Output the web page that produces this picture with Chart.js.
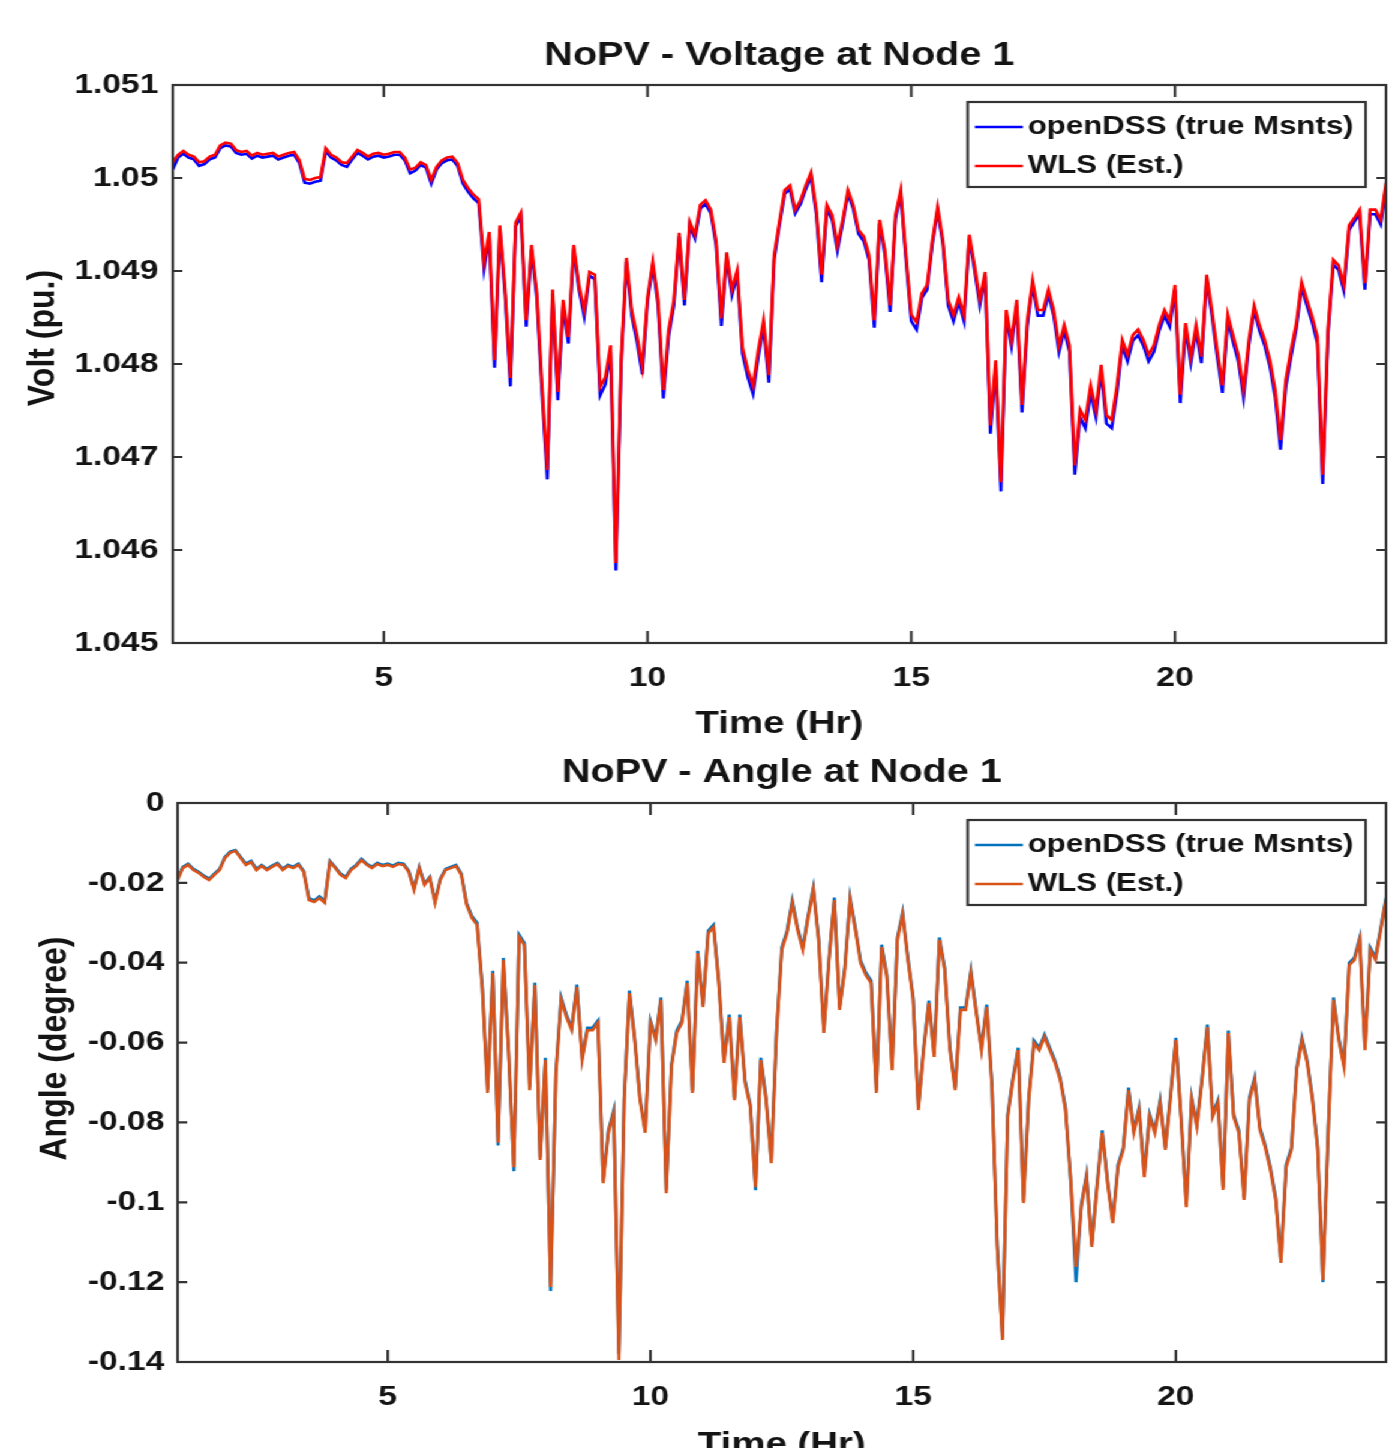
<!DOCTYPE html>
<html>
<head>
<meta charset="utf-8">
<script src="https://cdn.jsdelivr.net/npm/chart.js@4.4.1/dist/chart.umd.min.js"></script>
<style>
  html, body { margin: 0; padding: 0; background: #fff; overflow: hidden; }
  /* the source figure is stretched sideways, so the whole sheet is too */
  #sheet { width: 1157px; transform: scaleX(1.2); transform-origin: 0 0; }
  .panel { position: relative; width: 1157px; }
</style>
</head>
<body>
<div id="sheet">
  <div class="panel" style="height:748px"><canvas id="voltChart"></canvas></div>
  <div class="panel" style="height:720px"><canvas id="angleChart"></canvas></div>
</div>
<script>
const hours = [
  1, 1.1, 1.2, 1.3, 1.4, 1.5, 1.6, 1.7, 1.8, 1.9,
  2, 2.1, 2.2, 2.3, 2.4, 2.5, 2.6, 2.7, 2.8, 2.9,
  3, 3.1, 3.2, 3.3, 3.4, 3.5, 3.6, 3.7, 3.8, 3.9,
  4, 4.1, 4.2, 4.3, 4.4, 4.5, 4.6, 4.7, 4.8, 4.9,
  5, 5.1, 5.2, 5.3, 5.4, 5.5, 5.6, 5.7, 5.8, 5.9,
  6, 6.1, 6.2, 6.3, 6.4, 6.5, 6.6, 6.7, 6.8, 6.9,
  7, 7.1, 7.2, 7.3, 7.4, 7.5, 7.6, 7.7, 7.8, 7.9,
  8, 8.1, 8.2, 8.3, 8.4, 8.5, 8.6, 8.7, 8.8, 8.9,
  9, 9.1, 9.2, 9.3, 9.4, 9.5, 9.6, 9.7, 9.8, 9.9,
  10, 10.1, 10.2, 10.3, 10.4, 10.5, 10.6, 10.7, 10.8, 10.9,
  11, 11.1, 11.2, 11.3, 11.4, 11.5, 11.6, 11.7, 11.8, 11.9,
  12, 12.1, 12.2, 12.3, 12.4, 12.5, 12.6, 12.7, 12.8, 12.9,
  13, 13.1, 13.2, 13.3, 13.4, 13.5, 13.6, 13.7, 13.8, 13.9,
  14, 14.1, 14.2, 14.3, 14.4, 14.5, 14.6, 14.7, 14.8, 14.9,
  15, 15.1, 15.2, 15.3, 15.4, 15.5, 15.6, 15.7, 15.8, 15.9,
  16, 16.1, 16.2, 16.3, 16.4, 16.5, 16.6, 16.7, 16.8, 16.9,
  17, 17.1, 17.2, 17.3, 17.4, 17.5, 17.6, 17.7, 17.8, 17.9,
  18, 18.1, 18.2, 18.3, 18.4, 18.5, 18.6, 18.7, 18.8, 18.9,
  19, 19.1, 19.2, 19.3, 19.4, 19.5, 19.6, 19.7, 19.8, 19.9,
  20, 20.1, 20.2, 20.3, 20.4, 20.5, 20.6, 20.7, 20.8, 20.9,
  21, 21.1, 21.2, 21.3, 21.4, 21.5, 21.6, 21.7, 21.8, 21.9,
  22, 22.1, 22.2, 22.3, 22.4, 22.5, 22.6, 22.7, 22.8, 22.9,
  23, 23.1, 23.2, 23.3, 23.4, 23.5, 23.6, 23.7, 23.8, 23.9,
  24
]

// Voltage (pu), openDSS true measurements
const voltTrue = [
  1.05009, 1.05022, 1.05026, 1.05022, 1.05020, 1.05013, 1.05015, 1.05020, 1.05022, 1.05032,
  1.05035, 1.05034, 1.05027, 1.05025, 1.05026, 1.05021, 1.05024, 1.05022, 1.05023, 1.05024,
  1.05020, 1.05022, 1.05024, 1.05025, 1.05016, 1.04995, 1.04994, 1.04996, 1.04997, 1.05029,
  1.05022, 1.05019, 1.05014, 1.05012, 1.05020, 1.05027, 1.05024, 1.05020, 1.05023, 1.05024,
  1.05022, 1.05023, 1.05025, 1.05025, 1.05019, 1.05005, 1.05008, 1.05014, 1.05011, 1.04994,
  1.05009, 1.05016, 1.05019, 1.05020, 1.05013, 1.04994, 1.04985, 1.04978, 1.04973, 1.04902,
  1.04937, 1.04796, 1.04945, 1.04874, 1.04776, 1.04948, 1.04959, 1.04840, 1.04923, 1.04871,
  1.04768, 1.04676, 1.04875, 1.04761, 1.04863, 1.04822, 1.04924, 1.04880, 1.04851, 1.04895,
  1.04891, 1.04766, 1.04778, 1.04813, 1.04578, 1.04799, 1.04910, 1.04852, 1.04824, 1.04789,
  1.04867, 1.04906, 1.04863, 1.04763, 1.04830, 1.04863, 1.04937, 1.04863, 1.04949, 1.04935,
  1.04967, 1.04972, 1.04962, 1.04928, 1.04841, 1.04915, 1.04874, 1.04896, 1.04811, 1.04786,
  1.04768, 1.04808, 1.04840, 1.04780, 1.04912, 1.04949, 1.04983, 1.04988, 1.04962, 1.04972,
  1.04988, 1.05002, 1.04961, 1.04888, 1.04967, 1.04955, 1.04922, 1.04951, 1.04983, 1.04967,
  1.04940, 1.04932, 1.04912, 1.04839, 1.04951, 1.04918, 1.04856, 1.04956, 1.04983, 1.04912,
  1.04846, 1.04837, 1.04871, 1.04880, 1.04929, 1.04965, 1.04929, 1.04863, 1.04846, 1.04867,
  1.04846, 1.04935, 1.04901, 1.04863, 1.04895, 1.04725, 1.04797, 1.04663, 1.04852, 1.04819,
  1.04863, 1.04748, 1.04841, 1.04885, 1.04852, 1.04852, 1.04875, 1.04852, 1.04813, 1.04836,
  1.04813, 1.04681, 1.04743, 1.04731, 1.04769, 1.04743, 1.04792, 1.04736, 1.04731, 1.04769,
  1.04820, 1.04803, 1.04825, 1.04831, 1.04820, 1.04803, 1.04813, 1.04836, 1.04852, 1.04840,
  1.04880, 1.04758, 1.04838, 1.04801, 1.04836, 1.04801, 1.04891, 1.04852, 1.04808, 1.04769,
  1.04847, 1.04824, 1.04803, 1.04764, 1.04820, 1.04858, 1.04836, 1.04820, 1.04797, 1.04764,
  1.04708, 1.04775, 1.04808, 1.04838, 1.04883, 1.04863, 1.04845, 1.04822, 1.04671, 1.04831,
  1.04907, 1.04901, 1.04879, 1.04944, 1.04953, 1.04961, 1.04880, 1.04961, 1.04961, 1.04950,
  1.04990
]

// Voltage (pu), WLS estimate
const voltEst = [
  1.05017, 1.05025, 1.05029, 1.05025, 1.05023, 1.05017, 1.05018, 1.05023, 1.05025, 1.05035,
  1.05038, 1.05037, 1.05030, 1.05028, 1.05029, 1.05024, 1.05027, 1.05025, 1.05026, 1.05027,
  1.05023, 1.05025, 1.05027, 1.05028, 1.05019, 1.04999, 1.04998, 1.05000, 1.05001, 1.05032,
  1.05025, 1.05022, 1.05017, 1.05016, 1.05023, 1.05030, 1.05027, 1.05023, 1.05026, 1.05027,
  1.05025, 1.05026, 1.05028, 1.05028, 1.05022, 1.05009, 1.05011, 1.05017, 1.05014, 1.04998,
  1.05012, 1.05019, 1.05022, 1.05023, 1.05016, 1.04998, 1.04989, 1.04982, 1.04977, 1.04910,
  1.04942, 1.04804, 1.04949, 1.04880, 1.04785, 1.04952, 1.04963, 1.04847, 1.04928, 1.04877,
  1.04777, 1.04686, 1.04880, 1.04770, 1.04869, 1.04829, 1.04928, 1.04885, 1.04858, 1.04899,
  1.04896, 1.04775, 1.04786, 1.04820, 1.04586, 1.04806, 1.04914, 1.04858, 1.04831, 1.04797,
  1.04872, 1.04910, 1.04869, 1.04772, 1.04837, 1.04869, 1.04941, 1.04869, 1.04953, 1.04939,
  1.04971, 1.04976, 1.04966, 1.04933, 1.04849, 1.04920, 1.04880, 1.04901, 1.04818, 1.04794,
  1.04777, 1.04815, 1.04847, 1.04788, 1.04917, 1.04953, 1.04987, 1.04992, 1.04966, 1.04976,
  1.04992, 1.05006, 1.04966, 1.04896, 1.04971, 1.04960, 1.04928, 1.04955, 1.04987, 1.04971,
  1.04944, 1.04937, 1.04917, 1.04847, 1.04955, 1.04923, 1.04863, 1.04960, 1.04987, 1.04917,
  1.04853, 1.04845, 1.04876, 1.04885, 1.04933, 1.04969, 1.04933, 1.04869, 1.04853, 1.04872,
  1.04853, 1.04939, 1.04906, 1.04869, 1.04899, 1.04734, 1.04804, 1.04673, 1.04858, 1.04826,
  1.04869, 1.04756, 1.04847, 1.04890, 1.04858, 1.04858, 1.04880, 1.04858, 1.04820, 1.04842,
  1.04820, 1.04691, 1.04751, 1.04740, 1.04777, 1.04751, 1.04799, 1.04745, 1.04740, 1.04777,
  1.04826, 1.04810, 1.04831, 1.04837, 1.04826, 1.04810, 1.04820, 1.04842, 1.04858, 1.04847,
  1.04885, 1.04767, 1.04844, 1.04808, 1.04842, 1.04808, 1.04896, 1.04858, 1.04815, 1.04777,
  1.04853, 1.04831, 1.04810, 1.04772, 1.04826, 1.04863, 1.04842, 1.04826, 1.04804, 1.04772,
  1.04718, 1.04783, 1.04815, 1.04844, 1.04888, 1.04869, 1.04851, 1.04829, 1.04681, 1.04837,
  1.04912, 1.04906, 1.04885, 1.04949, 1.04957, 1.04966, 1.04887, 1.04966, 1.04966, 1.04955,
  1.04995
]

// Angle (degree), openDSS true measurements
const angleTrue = [
  -0.0188, -0.0160, -0.0152, -0.0165, -0.0172, -0.0182, -0.0190, -0.0177, -0.0165, -0.0135,
  -0.0122, -0.0118, -0.0135, -0.0152, -0.0145, -0.0165, -0.0155, -0.0165, -0.0157, -0.0150,
  -0.0165, -0.0155, -0.0160, -0.0152, -0.0170, -0.0238, -0.0244, -0.0234, -0.0246, -0.0145,
  -0.0160, -0.0177, -0.0185, -0.0165, -0.0155, -0.0140, -0.0152, -0.0160, -0.0150, -0.0155,
  -0.0152, -0.0157, -0.0150, -0.0152, -0.0170, -0.0214, -0.0160, -0.0202, -0.0185, -0.0246,
  -0.0190, -0.0165, -0.0160, -0.0155, -0.0177, -0.0250, -0.0283, -0.0300, -0.0460, -0.0718,
  -0.0420, -0.0858, -0.0388, -0.0620, -0.0922, -0.0330, -0.0350, -0.0712, -0.0450, -0.0888,
  -0.0638, -0.1222, -0.0675, -0.0487, -0.0530, -0.0563, -0.0455, -0.0638, -0.0563, -0.0563,
  -0.0545, -0.0946, -0.0820, -0.0770, -0.1380, -0.0738, -0.0470, -0.0588, -0.0738, -0.0820,
  -0.0545, -0.0588, -0.0487, -0.0970, -0.0655, -0.0570, -0.0545, -0.0445, -0.0720, -0.0370,
  -0.0505, -0.0320, -0.0305, -0.0445, -0.0645, -0.0530, -0.0738, -0.0530, -0.0695, -0.0755,
  -0.0970, -0.0638, -0.0738, -0.0896, -0.0570, -0.0362, -0.0320, -0.0244, -0.0312, -0.0362,
  -0.0282, -0.0212, -0.0337, -0.0570, -0.0387, -0.0237, -0.0512, -0.0412, -0.0237, -0.0312,
  -0.0395, -0.0425, -0.0445, -0.0720, -0.0355, -0.0430, -0.0663, -0.0337, -0.0274, -0.0387,
  -0.0487, -0.0763, -0.0613, -0.0495, -0.0630, -0.0337, -0.0412, -0.0613, -0.0713, -0.0512,
  -0.0512, -0.0420, -0.0520, -0.0613, -0.0505, -0.0705, -0.1106, -0.1339, -0.0780, -0.0688,
  -0.0613, -0.0996, -0.0738, -0.0595, -0.0613, -0.0580, -0.0613, -0.0645, -0.0688, -0.0763,
  -0.0950, -0.1200, -0.1006, -0.0931, -0.1106, -0.0956, -0.0820, -0.0946, -0.1046, -0.0906,
  -0.0863, -0.0713, -0.0820, -0.0763, -0.0931, -0.0780, -0.0820, -0.0745, -0.0863, -0.0730,
  -0.0588, -0.0788, -0.1006, -0.0738, -0.0805, -0.0688, -0.0555, -0.0780, -0.0745, -0.0963,
  -0.0570, -0.0780, -0.0820, -0.0988, -0.0738, -0.0688, -0.0813, -0.0856, -0.0913, -0.0988,
  -0.1146, -0.0906, -0.0863, -0.0663, -0.0588, -0.0645, -0.0738, -0.0863, -0.1200, -0.0820,
  -0.0487, -0.0588, -0.0655, -0.0400, -0.0387, -0.0337, -0.0613, -0.0362, -0.0387, -0.0312,
  -0.0237
]

// Angle (degree), WLS estimate
const angleEst = [
  -0.0193, -0.0163, -0.0155, -0.0168, -0.0175, -0.0185, -0.0193, -0.0180, -0.0168, -0.0138,
  -0.0125, -0.0120, -0.0138, -0.0155, -0.0148, -0.0168, -0.0158, -0.0168, -0.0160, -0.0153,
  -0.0168, -0.0158, -0.0163, -0.0155, -0.0173, -0.0243, -0.0248, -0.0238, -0.0250, -0.0148,
  -0.0163, -0.0180, -0.0188, -0.0168, -0.0158, -0.0143, -0.0155, -0.0163, -0.0153, -0.0158,
  -0.0155, -0.0160, -0.0153, -0.0155, -0.0173, -0.0218, -0.0163, -0.0205, -0.0188, -0.0250,
  -0.0193, -0.0168, -0.0163, -0.0158, -0.0180, -0.0255, -0.0288, -0.0306, -0.0468, -0.0726,
  -0.0426, -0.0851, -0.0393, -0.0626, -0.0912, -0.0336, -0.0356, -0.0719, -0.0456, -0.0894,
  -0.0644, -0.1212, -0.0681, -0.0493, -0.0536, -0.0569, -0.0461, -0.0644, -0.0569, -0.0569,
  -0.0551, -0.0952, -0.0826, -0.0776, -0.1395, -0.0744, -0.0476, -0.0594, -0.0744, -0.0826,
  -0.0551, -0.0594, -0.0493, -0.0977, -0.0661, -0.0576, -0.0551, -0.0451, -0.0726, -0.0376,
  -0.0511, -0.0326, -0.0311, -0.0451, -0.0651, -0.0536, -0.0744, -0.0536, -0.0701, -0.0761,
  -0.0962, -0.0644, -0.0744, -0.0902, -0.0576, -0.0368, -0.0326, -0.0250, -0.0318, -0.0368,
  -0.0288, -0.0218, -0.0343, -0.0576, -0.0393, -0.0243, -0.0518, -0.0418, -0.0243, -0.0318,
  -0.0401, -0.0431, -0.0451, -0.0726, -0.0361, -0.0436, -0.0669, -0.0343, -0.0280, -0.0393,
  -0.0493, -0.0769, -0.0619, -0.0501, -0.0636, -0.0343, -0.0418, -0.0619, -0.0719, -0.0518,
  -0.0518, -0.0426, -0.0526, -0.0619, -0.0511, -0.0711, -0.1112, -0.1345, -0.0786, -0.0694,
  -0.0619, -0.1002, -0.0744, -0.0601, -0.0619, -0.0586, -0.0619, -0.0651, -0.0694, -0.0769,
  -0.0944, -0.1162, -0.1012, -0.0937, -0.1112, -0.0962, -0.0826, -0.0952, -0.1052, -0.0912,
  -0.0869, -0.0719, -0.0826, -0.0769, -0.0937, -0.0786, -0.0826, -0.0751, -0.0869, -0.0736,
  -0.0594, -0.0794, -0.1012, -0.0744, -0.0811, -0.0694, -0.0561, -0.0786, -0.0751, -0.0969,
  -0.0576, -0.0786, -0.0826, -0.0994, -0.0744, -0.0694, -0.0819, -0.0862, -0.0919, -0.0994,
  -0.1152, -0.0912, -0.0869, -0.0669, -0.0594, -0.0651, -0.0744, -0.0869, -0.1195, -0.0826,
  -0.0493, -0.0594, -0.0661, -0.0406, -0.0393, -0.0343, -0.0619, -0.0368, -0.0393, -0.0318,
  -0.0243
]

const hourTicks = [5, 10, 15, 20]
const voltTicks = [1.045, 1.046, 1.047, 1.048, 1.049, 1.05, 1.051]
const angleTicks = [-0.14, -0.12, -0.1, -0.08, -0.06, -0.04, -0.02, 0]

const family = '"Liberation Sans", Arial, sans-serif'
const ink = '#141414'
const frameInk = '#333333'

const points = vals => vals.map((v, i) => ({ x: hours[i], y: v }))

// MATLAB style axes box with inward ticks on all four sides, y label, boxed legend
const matlabFrame = {
  id: 'matlabFrame',
  afterDatasetsDraw (chart, args, opts) {
    const { ctx, chartArea: a } = chart
    const x = chart.scales.x
    const y = chart.scales.y
    ctx.save()
    ctx.strokeStyle = frameInk
    ctx.lineWidth = 2.2
    ctx.strokeRect(a.left, a.top, a.width, a.height)
    ctx.beginPath()
    x.ticks.forEach(t => {
      const px = x.getPixelForValue(t.value)
      ctx.moveTo(px, a.bottom); ctx.lineTo(px, a.bottom - 12)
      ctx.moveTo(px, a.top); ctx.lineTo(px, a.top + 12)
    })
    y.ticks.forEach(t => {
      const py = y.getPixelForValue(t.value)
      ctx.moveTo(a.left, py); ctx.lineTo(a.left + 8, py)
      ctx.moveTo(a.right, py); ctx.lineTo(a.right - 8, py)
    })
    ctx.stroke()

    // y axis label, MATLAB sits it a little above the middle of the axis
    ctx.save()
    ctx.translate(opts.yTitleX, (a.top + a.bottom) / 2 + opts.yTitleShift)
    ctx.rotate(-Math.PI / 2)
    ctx.font = 'bold 32px ' + family
    ctx.fillStyle = ink
    ctx.textAlign = 'center'
    ctx.textBaseline = 'middle'
    ctx.fillText(opts.yTitle, 0, 0)
    ctx.restore()

    // legend
    const sets = chart.data.datasets
    ctx.font = 'bold 26px ' + family
    const textW = Math.max(...sets.map(d => ctx.measureText(d.label).width))
    const w = 50 + textW + 10
    const h = 85
    const bx = a.right - 17 - w
    const by = a.top + 17
    ctx.fillStyle = '#fff'
    ctx.fillRect(bx, by, w, h)
    ctx.strokeStyle = frameInk
    ctx.lineWidth = 2.2
    ctx.strokeRect(bx, by, w, h)
    sets.forEach((d, i) => {
      const cy = by + 25 + i * 39
      ctx.strokeStyle = d.borderColor
      ctx.lineWidth = 2.5
      ctx.beginPath()
      ctx.moveTo(bx + 6, cy); ctx.lineTo(bx + 46, cy)
      ctx.stroke()
      ctx.fillStyle = ink
      ctx.textBaseline = 'middle'
      ctx.textAlign = 'left'
      ctx.fillText(d.label, bx + 50, cy)
    })
    ctx.restore()
  }
}

function makeChart (id, cfg) {
  return new Chart(document.getElementById(id), {
    type: 'line',
    data: {
      datasets: [
        { label: 'openDSS (true Msnts)', data: points(cfg.truth), borderColor: cfg.colors[0], borderWidth: 2.6, pointRadius: 0, order: 2 },
        { label: 'WLS (Est.)', data: points(cfg.est), borderColor: cfg.colors[1], borderWidth: 2.6, pointRadius: 0, order: 1 }
      ]
    },
    options: {
      responsive: true,
      maintainAspectRatio: false,
      animation: false,
      layout: { padding: { left: 0, right: 2, top: 0, bottom: 0 } },
      plugins: {
        legend: { display: false },
        tooltip: { enabled: false },
        title: {
          display: true,
          fullSize: false,
          text: cfg.title,
          color: ink,
          font: { family, size: 33, weight: 'bold', lineHeight: 1 },
          padding: cfg.titlePad
        },
        matlabFrame: {
          yTitle: cfg.yTitle,
          yTitleX: cfg.yTitleX,
          yTitleShift: cfg.yTitleShift
        }
      },
      scales: {
        x: {
          type: 'linear',
          min: 1,
          max: 24,
          afterBuildTicks: s => { s.ticks = hourTicks.map(v => ({ value: v })) },
          afterFit: s => { s.height = cfg.xAxisH },
          grid: { display: false, drawTicks: false },
          border: { display: false },
          ticks: {
            padding: 18,
            color: ink,
            autoSkip: false,
            maxRotation: 0,
            font: { family, size: 28, weight: 'bold', lineHeight: 1.2 }
          },
          title: {
            display: true,
            text: 'Time (Hr)',
            color: ink,
            font: { family, size: 32, weight: 'bold', lineHeight: 1 },
            padding: { top: 0, bottom: cfg.xTitleBottom }
          }
        },
        y: {
          type: 'linear',
          min: cfg.yTicks[0],
          max: cfg.yTicks[cfg.yTicks.length - 1],
          afterBuildTicks: s => { s.ticks = cfg.yTicks.map(v => ({ value: v })) },
          afterFit: s => { s.width = cfg.yAxisW },
          grid: { display: false, drawTicks: false },
          border: { display: false },
          ticks: {
            padding: cfg.yTickPad,
            color: ink,
            autoSkip: false,
            callback: v => String(v),
            font: { family, size: 28, weight: 'bold', lineHeight: 1.2 }
          },
          title: { display: false, text: cfg.yTitle }
        }
      }
    },
    plugins: [matlabFrame]
  })
}

makeChart('voltChart', {
  title: 'NoPV - Voltage at Node 1',
  titlePad: { top: 39.5, bottom: 12.5 },
  truth: voltTrue,
  est: voltEst,
  colors: ['#0000ff', '#ff0000'],
  yTicks: voltTicks,
  yTitle: 'Volt (pu.)',
  yTitleX: 36,
  yTitleShift: -26,
  yAxisW: 144,
  yTickPad: 12,
  xAxisH: 105,
  xTitleBottom: 8
})

makeChart('angleChart', {
  title: 'NoPV - Angle at Node 1',
  titlePad: { top: 8.5, bottom: 13.5 },
  truth: angleTrue,
  est: angleEst,
  colors: ['#0072bd', '#d95319'],
  yTicks: angleTicks,
  yTitle: 'Angle (degree)',
  yTitleX: 46,
  yTitleShift: -34,
  yAxisW: 148,
  yTickPad: 11,
  xAxisH: 106,
  xTitleBottom: 7
})
</script>
</body>
</html>
